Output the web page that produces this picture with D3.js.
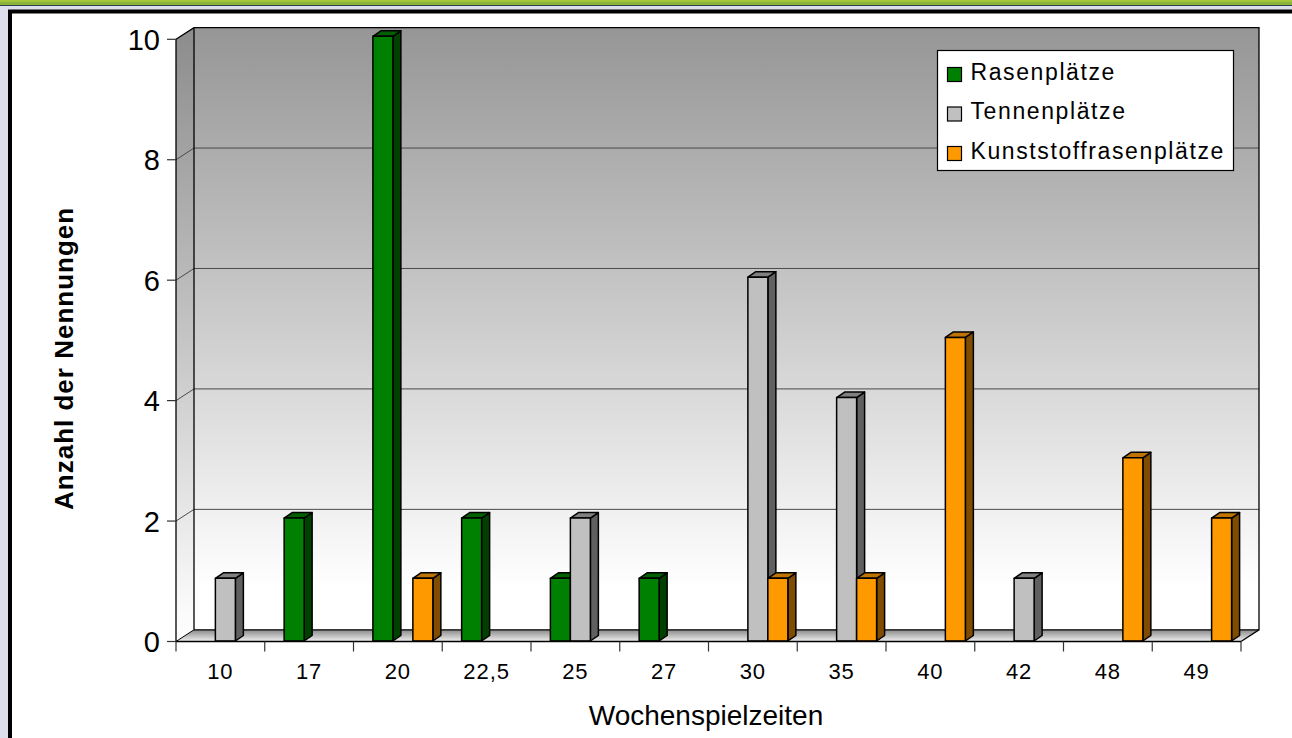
<!DOCTYPE html>
<html>
<head>
<meta charset="utf-8">
<script src="https://cdn.jsdelivr.net/npm/d3@7"></script>
<style>
  html, body { margin: 0; padding: 0; background: #dde0ec; }
  svg { display: block; font-family: "Liberation Sans", Arial, sans-serif; }
</style>
</head>
<body>
<svg id="chart" width="1292" height="738"></svg>
<script>
// Weekly playing hours per pitch type
const categories = ["10", "17", "20", "22,5", "25", "27", "30", "35", "40", "42", "48", "49"];
const seriesNames = ["Rasenplätze", "Tennenplätze", "Kunststoffrasenplätze"];
const rasen   = [0, 2, 10, 2, 1, 1, 0, 0, 0, 0, 0, 0];
const tennen  = [1, 0, 0, 0, 2, 0, 6, 4, 0, 1, 0, 0];
const kunst   = [0, 0, 1, 0, 0, 0, 1, 1, 5, 0, 3, 2];
const yTicks  = [0, 2, 4, 6, 8, 10];
const xTitle  = "Wochenspielzeiten";
const yTitle  = "Anzahl der Nennungen";

const seriesValues = [rasen, tennen, kunst];
const faceColors = [
  { front: "#008000", side: "#004000", top: "#006000" },
  { front: "#c0c0c0", side: "#606060", top: "#808080" },
  { front: "#ff9900", side: "#7f4c00", top: "#bf7300" }
];

const svg = d3.select("#chart");
const W = 1292, H = 738;

// page frame
svg.append("rect").attr("x", 0).attr("y", 0).attr("width", W).attr("height", 2).attr("fill", "#a6c640");
svg.append("rect").attr("x", 0).attr("y", 2).attr("width", W).attr("height", 3).attr("fill", "#8cb23a");
svg.append("rect").attr("x", 0).attr("y", 5).attr("width", W).attr("height", 1).attr("fill", "#2b4050");
svg.append("rect").attr("x", 10).attr("y", 11.5).attr("width", 1300).attr("height", 740)
  .attr("fill", "#ffffff").attr("stroke", "#000").attr("stroke-width", 4);

// plot geometry (front plane + depth offset)
const x0 = 176, x1 = 1241;
const depthX = 18, depthY = -11.7;
const y = d3.scaleLinear().domain([0, 10]).range([641.5, 39.3]);
const xBand = d3.scaleBand().domain(categories).range([x0, x1]);
const xSeries = d3.scaleBand().domain(seriesNames).range([0, xBand.bandwidth()])
  .paddingInner(0).paddingOuter(0.72);
const barShiftX = 5, barShiftY = -3;
const barDX = 8, barDY = -5.5;

const defs = svg.append("defs");
const wallGrad = defs.append("linearGradient").attr("id", "wall")
  .attr("x1", 0).attr("y1", 0).attr("x2", 0).attr("y2", 1);
wallGrad.append("stop").attr("offset", "0%").attr("stop-color", "#969696");
wallGrad.append("stop").attr("offset", "50%").attr("stop-color", "#cdcdcd");
wallGrad.append("stop").attr("offset", "93%").attr("stop-color", "#ffffff");
wallGrad.append("stop").attr("offset", "100%").attr("stop-color", "#ffffff");
const sideGrad = defs.append("linearGradient").attr("id", "sidewall")
  .attr("x1", 0).attr("y1", 0).attr("x2", 0).attr("y2", 1);
sideGrad.append("stop").attr("offset", "0%").attr("stop-color", "#8c8c8c");
sideGrad.append("stop").attr("offset", "50%").attr("stop-color", "#c4c4c4");
sideGrad.append("stop").attr("offset", "93%").attr("stop-color", "#f8f8f8");
sideGrad.append("stop").attr("offset", "100%").attr("stop-color", "#ffffff");
const floorGrad = defs.append("linearGradient").attr("id", "floor")
  .attr("x1", 0).attr("y1", 0).attr("x2", 0).attr("y2", 1);
floorGrad.append("stop").attr("offset", "0%").attr("stop-color", "#8a8a8a");
floorGrad.append("stop").attr("offset", "100%").attr("stop-color", "#f0f0f0");

const pts = a => a.map(p => p.join(",")).join(" ");
const top10 = y(10), base0 = y(0);

// back wall
svg.append("rect")
  .attr("x", x0 + depthX).attr("y", top10 + depthY)
  .attr("width", x1 - x0).attr("height", base0 - top10)
  .attr("fill", "url(#wall)");
// side wall
svg.append("polygon")
  .attr("points", pts([[x0, top10], [x0 + depthX, top10 + depthY], [x0 + depthX, base0 + depthY], [x0, base0]]))
  .attr("fill", "url(#sidewall)");
// floor
svg.append("polygon")
  .attr("points", pts([[x0, base0], [x0 + depthX, base0 + depthY], [x1 + depthX, base0 + depthY], [x1, base0]]))
  .attr("fill", "url(#floor)");

// gridlines on back wall and side wall
const grid = svg.append("g").attr("stroke", "#4a4a4a").attr("stroke-width", 1).attr("fill", "none");
yTicks.filter(t => t > 0 && t < 10).forEach(t => {
  grid.append("line").attr("x1", x0 + depthX).attr("x2", x1 + depthX)
    .attr("y1", y(t) + depthY).attr("y2", y(t) + depthY);
  grid.append("line").attr("x1", x0).attr("y1", y(t))
    .attr("x2", x0 + depthX).attr("y2", y(t) + depthY);
});

// wall outlines
const edges = svg.append("g").attr("stroke", "#000").attr("fill", "none");
edges.append("polyline").attr("stroke-width", 1.3)
  .attr("points", pts([[x0, top10], [x0 + depthX, top10 + depthY], [x1 + depthX, top10 + depthY],
    [x1 + depthX, base0 + depthY], [x1, base0]]));
edges.append("line").attr("stroke-width", 1.3)
  .attr("x1", x0 + depthX).attr("x2", x0 + depthX).attr("y1", top10 + depthY).attr("y2", base0 + depthY);
edges.append("line").attr("stroke-width", 1.3)
  .attr("x1", x0 + depthX).attr("x2", x1 + depthX).attr("y1", base0 + depthY).attr("y2", base0 + depthY);
edges.append("line").attr("stroke-width", 1)
  .attr("x1", x0).attr("y1", base0).attr("x2", x0 + depthX).attr("y2", base0 + depthY);

// bars
const bars = svg.append("g").attr("stroke", "#000").attr("stroke-width", 1.5).attr("stroke-linejoin", "round");
categories.forEach((c, i) => {
  seriesNames.forEach((s, k) => {
    const v = seriesValues[k][i];
    if (!v) return;
    const col = faceColors[k];
    const bx = xBand(c) + xSeries(s) + barShiftX;
    const bw = xSeries.bandwidth();
    const yt = y(v) + barShiftY;
    const yb = y(0) - 0.5;
    const g = bars.append("g");
    g.append("polygon").attr("fill", col.side)
      .attr("points", pts([[bx + bw, yt], [bx + bw + barDX, yt + barDY], [bx + bw + barDX, yb + barDY], [bx + bw, yb]]));
    g.append("polygon").attr("fill", col.top)
      .attr("points", pts([[bx, yt], [bx + barDX, yt + barDY], [bx + bw + barDX, yt + barDY], [bx + bw, yt]]));
    g.append("rect").attr("fill", col.front)
      .attr("x", bx).attr("y", yt).attr("width", bw).attr("height", yb - yt);
  });
});

// y axis (front)
const yAxisG = svg.append("g").attr("transform", `translate(${x0},0)`);
yAxisG.append("line").attr("x1", 0).attr("x2", 0).attr("y1", top10).attr("y2", base0)
  .attr("stroke", "#000").attr("stroke-width", 1.3);
yTicks.forEach(t => {
  yAxisG.append("line").attr("x1", -9).attr("x2", 0).attr("y1", y(t)).attr("y2", y(t))
    .attr("stroke", "#333").attr("stroke-width", 1.2);
  yAxisG.append("text").attr("x", -16).attr("y", y(t)).attr("dy", "0.36em")
    .attr("text-anchor", "end").attr("font-size", 29).attr("fill", "#000").text(t);
});

// x axis (front)
const xAxisG = svg.append("g");
xAxisG.append("line").attr("x1", x0).attr("x2", x1).attr("y1", base0).attr("y2", base0)
  .attr("stroke", "#000").attr("stroke-width", 1.3);
const boundaries = categories.map(c => xBand(c)).concat([x1]);
boundaries.forEach(bx => {
  xAxisG.append("line").attr("x1", bx).attr("x2", bx).attr("y1", base0).attr("y2", base0 + 10)
    .attr("stroke", "#333").attr("stroke-width", 1.2);
});
categories.forEach(c => {
  xAxisG.append("text").attr("x", xBand(c) + xBand.bandwidth() / 2).attr("y", base0 + 37)
    .attr("text-anchor", "middle").attr("font-size", 22).attr("letter-spacing", 1)
    .attr("fill", "#000").text(c);
});

// axis titles
svg.append("text").attr("x", 706).attr("y", 725)
  .attr("text-anchor", "middle").attr("font-size", 28).attr("fill", "#000").text(xTitle);
svg.append("text").attr("transform", `translate(73,${(top10 + base0) / 2 + 18}) rotate(-90)`)
  .attr("text-anchor", "middle").attr("font-size", 26).attr("letter-spacing", 1)
  .attr("font-weight", "bold").attr("fill", "#000").text(yTitle);

// legend
const lg = svg.append("g").attr("transform", "translate(937.5,50.5)");
lg.append("rect").attr("width", 296).attr("height", 120).attr("fill", "#fff")
  .attr("stroke", "#000").attr("stroke-width", 1.2);
seriesNames.forEach((s, k) => {
  const row = lg.append("g").attr("transform", `translate(0,${29 + k * 39.5})`);
  row.append("rect").attr("x", 10).attr("y", -12).attr("width", 14).attr("height", 14)
    .attr("fill", faceColors[k].front).attr("stroke", "#000").attr("stroke-width", 1.2);
  row.append("text").attr("x", 33).attr("y", 0).attr("font-size", 23).attr("letter-spacing", 1.6)
    .attr("fill", "#000").text(s);
});
</script>
</body>
</html>
